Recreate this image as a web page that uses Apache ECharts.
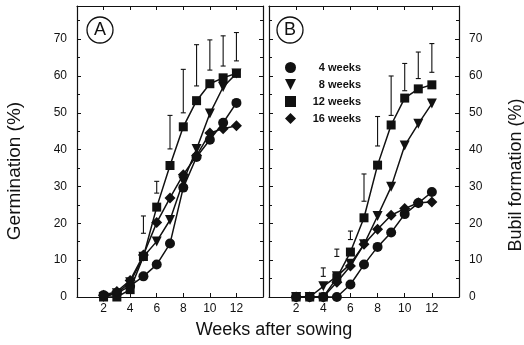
<!DOCTYPE html>
<html>
<head>
<meta charset="utf-8">
<script src="https://cdn.jsdelivr.net/npm/echarts@6/dist/echarts.min.js"></script>
<style>
  html, body { margin: 0; padding: 0; background: #fff; }
  #chart { width: 524px; height: 345px; }
</style>
</head>
<body>
<div id="chart"></div>
<script>
  const weeks = [2, 3, 4, 5, 6, 7, 8, 9, 10, 11, 12];
  const seriesNames = ["4 weeks", "8 weeks", "12 weeks", "16 weeks"];

  // panel A - germination (%)
  const germ4 = [0.5, 1, 3, 5.6, 8.8, 14.5, 29.7, 38, 42.7, 47.3, 52.7];
  const germ8 = [0, 1, 4, 10.9, 15.1, 20.9, 31.4, 40.2, 49.8, 57, 60.7];
  const germ12 = [0, 0, 2, 11, 24.4, 35.7, 46.2, 53.3, 57.9, 59.5, 60.7];
  const germ16 = [0.5, 1.5, 4.5, 11.4, 20.2, 26.9, 33.2, 38.4, 44.5, 45.7, 46.5];
  // error bars [week, low, high]
  const germErr = [[5, 17.3, 22], [6, 28.2, 31.4], [7, 40.2, 49.3], [8, 50, 61.8],
    [9, 57.3, 68.5], [10, 61.6, 69.8], [11, 62.7, 70.9], [12, 64.1, 71.8]];

  // panel B - bulbil formation (%)
  const bulb4 = [0, 0, 0, 0, 3.4, 8.8, 13.6, 17.5, 22.5, 25.5, 28.5];
  const bulb8 = [0, 0, 2.9, 5.6, 9, 14.3, 22, 29.9, 41.1, 47, 52.5];
  const bulb12 = [0, 0, 0, 5.2, 12.2, 21.5, 35.8, 46.7, 54, 56.5, 57.6];
  const bulb16 = [0, 0, 0, 4, 8.4, 14.3, 18.4, 22.2, 24, 25.6, 25.8];
  const bulbErr = [[4, 5.6, 7.9], [5, 11, 13], [6, 15.6, 17.9], [7, 26, 33.4], [8, 41, 49],
    [9, 49.3, 60], [10, 56, 63.4], [11, 59.3, 66.5], [12, 61, 68.8]];

  const yTicks = [0, 10, 20, 30, 40, 50, 60, 70];
  const xTicks = [2, 4, 6, 8, 10, 12];

  const downTri = "path://M0,0 L10,0 L5,10 Z";
  const symbols = ["circle", downTri, "rect", "diamond"];
  const symSizes = [10, 10, 9, 11];

  const font = "Liberation Sans, Arial, sans-serif";
  const black = "#111";

  const chart = echarts.init(document.getElementById("chart"));

  function xAxes(gridIndex) {
    const common = {
      type: "value", gridIndex: gridIndex, min: 0, max: 14, interval: 2,
      axisLine: { show: true, onZero: false, lineStyle: { color: black, width: 1.2 } },
      axisTick: { show: true, inside: true, length: 4, lineStyle: { color: black } },
      splitLine: { show: false }
    };
    return [
      Object.assign({}, common, {
        position: "bottom",
        axisLabel: {
          color: black, fontFamily: font, fontSize: 12, margin: 6,
          formatter: v => (xTicks.indexOf(v) >= 0 ? String(v) : "")
        }
      }),
      Object.assign({}, common, { position: "top", axisLabel: { show: false } })
    ];
  }

  function yAxes(gridIndex, labelSide) {
    const common = {
      type: "value", gridIndex: gridIndex, min: 0, max: 79, interval: 10,
      axisLine: { show: true, onZero: false, lineStyle: { color: black, width: 1.2 } },
      axisTick: { show: true, inside: true, length: 4, lineStyle: { color: black } },
      minorTick: { show: true, splitNumber: 2, length: 3, lineStyle: { color: black } },
      splitLine: { show: false }
    };
    const label = {
      color: black, fontFamily: font, fontSize: 12, margin: 10, showMaxLabel: false,
      formatter: v => (yTicks.indexOf(v) >= 0 ? String(v) : "")
    };
    return [
      Object.assign({}, common, {
        position: "left",
        axisLabel: labelSide === "left" ? label : { show: false }
      }),
      Object.assign({}, common, {
        position: "right",
        axisLabel: labelSide === "right" ? label : { show: false }
      })
    ];
  }

  function lineSeries(name, values, idx, axisBase) {
    return {
      name: name, type: "line",
      xAxisIndex: axisBase, yAxisIndex: axisBase,
      data: weeks.map((w, i) => [w, values[i]]),
      symbol: symbols[idx], symbolSize: symSizes[idx],
      itemStyle: { color: black },
      lineStyle: { color: black, width: 1.5 },
      emphasis: { disabled: true },
      z: 3
    };
  }

  function errSeries(data, axisBase) {
    return {
      type: "custom",
      xAxisIndex: axisBase, yAxisIndex: axisBase,
      data: data,
      z: 2,
      renderItem: function (params, api) {
        const lo = api.coord([api.value(0), api.value(1)]);
        const hi = api.coord([api.value(0), api.value(2)]);
        const cap = 2.5;
        const st = { stroke: black, lineWidth: 1.1 };
        return {
          type: "group",
          children: [
            { type: "line", shape: { x1: lo[0], y1: lo[1], x2: hi[0], y2: hi[1] }, style: st },
            { type: "line", shape: { x1: lo[0] - cap, y1: lo[1], x2: lo[0] + cap, y2: lo[1] }, style: st },
            { type: "line", shape: { x1: hi[0] - cap, y1: hi[1], x2: hi[0] + cap, y2: hi[1] }, style: st }
          ]
        };
      }
    };
  }

  const seriesA = [germ4, germ8, germ12, germ16];
  const seriesB = [bulb4, bulb8, bulb12, bulb16];

  const series = [errSeries(germErr, 0), errSeries(bulbErr, 2)];
  seriesNames.forEach((n, i) => series.push(lineSeries(n, seriesA[i], i, 0)));
  seriesNames.forEach((n, i) => series.push(lineSeries(n, seriesB[i], i, 2)));

  const option = {
    backgroundColor: "#fff",
    animation: false,
    grid: [
      { left: 77, top: 6, width: 186, height: 291 },
      { left: 269, top: 6, width: 190, height: 291 }
    ],
    xAxis: xAxes(0).concat(xAxes(1)),
    yAxis: yAxes(0, "left").concat(yAxes(1, "right")),
    legend: {
      orient: "vertical",
      left: 285, top: 62, padding: 0,
      itemWidth: 11, itemHeight: 11, itemGap: 6,
      selectedMode: false,
      data: seriesNames.map((n, i) => ({ name: n, icon: symbols[i] })),
      itemStyle: { color: black },
      formatter: "{t|{name}}",
      textStyle: {
        rich: {
          t: { width: 60, align: "right", fontFamily: font, fontSize: 11, color: black, fontWeight: "bold" }
        }
      }
    },
    graphic: [
      { type: "circle", shape: { cx: 100, cy: 30, r: 13 }, style: { fill: "none", stroke: black, lineWidth: 1.3 } },
      { type: "text", x: 100, y: 30, style: { text: "A", fill: black, font: "18px " + font, align: "center", verticalAlign: "middle" } },
      { type: "circle", shape: { cx: 290, cy: 30, r: 13 }, style: { fill: "none", stroke: black, lineWidth: 1.3 } },
      { type: "text", x: 290, y: 30, style: { text: "B", fill: black, font: "18px " + font, align: "center", verticalAlign: "middle" } },
      { type: "text", x: 15, y: 171, rotation: Math.PI / 2,
        style: { text: "Germination (%)", fill: black, font: "19px " + font, align: "center", verticalAlign: "middle" } },
      { type: "text", x: 516, y: 175, rotation: Math.PI / 2,
        style: { text: "Bubil formation (%)", fill: black, font: "18px " + font, align: "center", verticalAlign: "middle" } },
      { type: "text", x: 274, y: 330,
        style: { text: "Weeks after sowing", fill: black, font: "18px " + font, align: "center", verticalAlign: "middle" } }
    ],
    series: series
  };

  chart.setOption(option);
</script>
</body>
</html>
